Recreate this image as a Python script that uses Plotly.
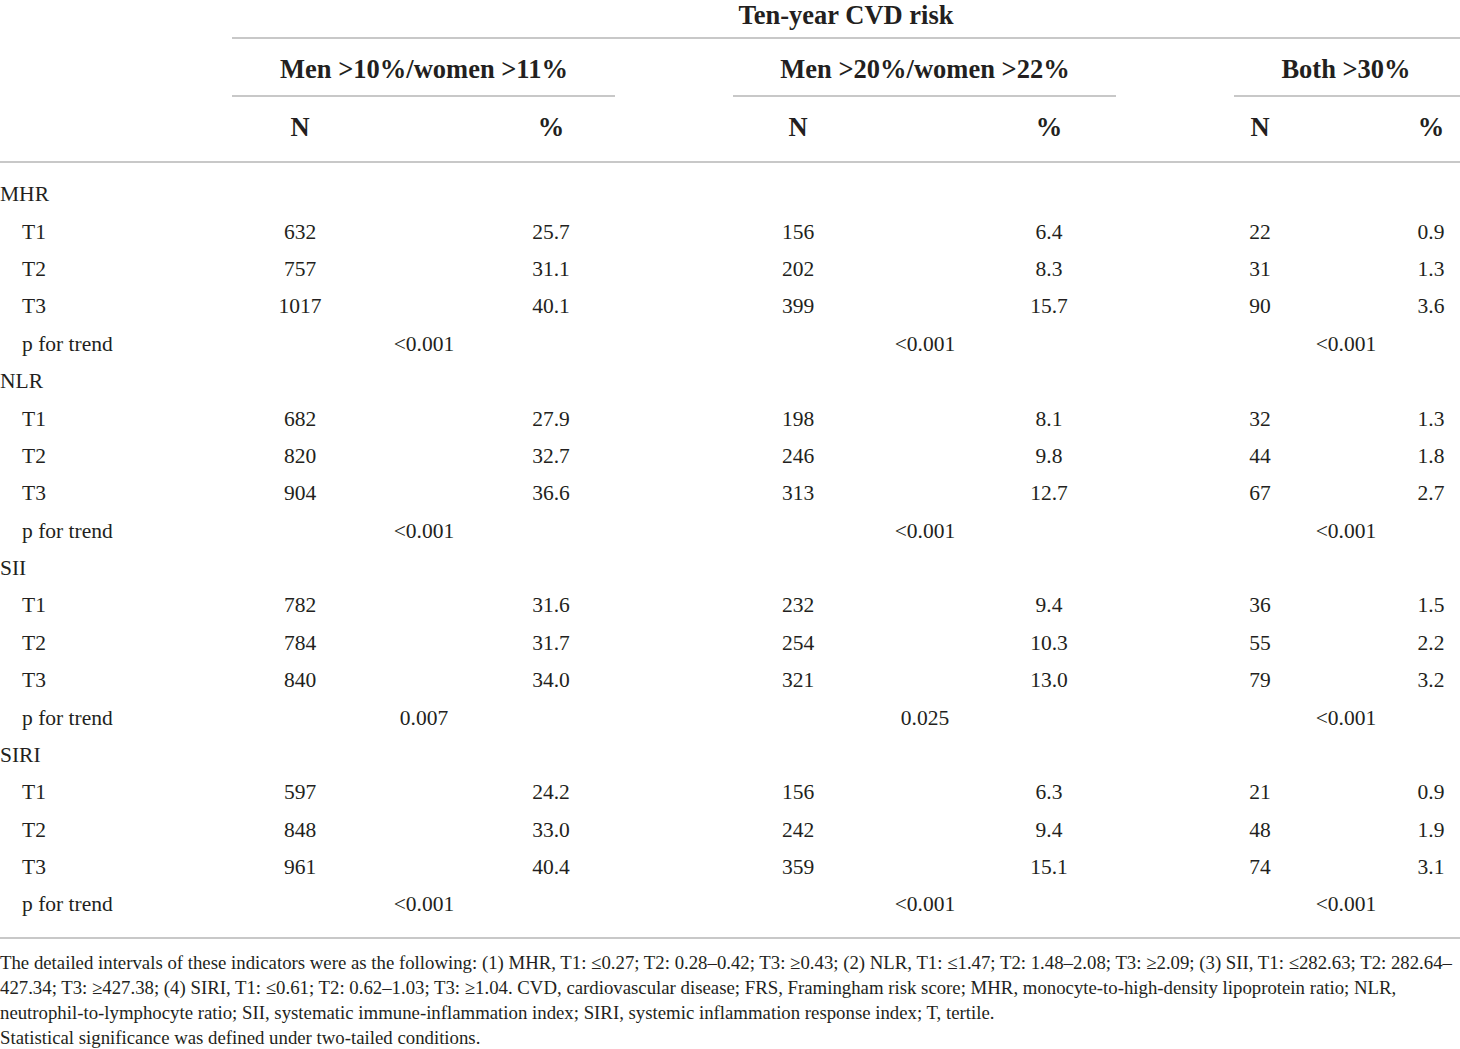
import plotly.graph_objects as go

# table content
indicators = ["MHR", "NLR", "SII", "SIRI"]
tertiles = ["T1", "T2", "T3"]
risk_title = "Ten-year CVD risk"
risk_groups = ["Men >10%/women >11%", "Men >20%/women >22%", "Both >30%"]
col_heads = ["N", "%"]

# N and % per indicator (rows T1..T3), one list per risk group
n_g1 = [[632, 757, 1017], [682, 820, 904], [782, 784, 840], [597, 848, 961]]
pct_g1 = [["25.7", "31.1", "40.1"], ["27.9", "32.7", "36.6"], ["31.6", "31.7", "34.0"], ["24.2", "33.0", "40.4"]]
n_g2 = [[156, 202, 399], [198, 246, 313], [232, 254, 321], [156, 242, 359]]
pct_g2 = [["6.4", "8.3", "15.7"], ["8.1", "9.8", "12.7"], ["9.4", "10.3", "13.0"], ["6.3", "9.4", "15.1"]]
n_g3 = [[22, 31, 90], [32, 44, 67], [36, 55, 79], [21, 48, 74]]
pct_g3 = [["0.9", "1.3", "3.6"], ["1.3", "1.8", "2.7"], ["1.5", "2.2", "3.2"], ["0.9", "1.9", "3.1"]]

p_trend = [["<0.001", "<0.001", "<0.001"],
           ["<0.001", "<0.001", "<0.001"],
           ["0.007", "0.025", "<0.001"],
           ["<0.001", "<0.001", "<0.001"]]

footnote = [
    "The detailed intervals of these indicators were as the following: (1) MHR, T1: ≤0.27; T2: 0.28–0.42; T3: ≥0.43; (2) NLR, T1: ≤1.47; T2: 1.48–2.08; T3: ≥2.09; (3) SII, T1: ≤282.63; T2: 282.64–",
    "427.34; T3: ≥427.38; (4) SIRI, T1: ≤0.61; T2: 0.62–1.03; T3: ≥1.04. CVD, cardiovascular disease; FRS, Framingham risk score; MHR, monocyte-to-high-density lipoprotein ratio; NLR,",
    "neutrophil-to-lymphocyte ratio; SII, systematic immune-inflammation index; SIRI, systemic inflammation response index; T, tertile.",
    "Statistical significance was defined under two-tailed conditions.",
]

# layout (pixel-like axis units)
W, H = 1460, 1049
INK = "#231f20"
RULE = "#c8c8c8"
FONT = "Liberation Serif"
n_x = [300, 798, 1260]
pct_x = [551, 1049, 1431]
p_x = [424, 925, 1346]
group_x = [424, 925, 1346]
group_span = [(232, 615), (733, 1116), (1234, 1460)]
row0, row_step = 196, 37.37
foot_y = [964, 989, 1014, 1039]

n_all = [n_g1, n_g2, n_g3]
pct_all = [pct_g1, pct_g2, pct_g3]

lab_x, lab_y, lab_t = [], [], []
val_x, val_y, val_t = [], [], []
r = 0
for i, ind in enumerate(indicators):
    lab_x.append(0); lab_y.append(row0 + r * row_step); lab_t.append(ind)
    r += 1
    for k, t in enumerate(tertiles):
        y = row0 + r * row_step
        lab_x.append(22); lab_y.append(y); lab_t.append(t)
        for g in range(3):
            val_x += [n_x[g], pct_x[g]]
            val_y += [y, y]
            val_t += [str(n_all[g][i][k]), pct_all[g][i][k]]
        r += 1
    y = row0 + r * row_step
    lab_x.append(22); lab_y.append(y); lab_t.append("p for trend")
    for g in range(3):
        val_x.append(p_x[g]); val_y.append(y); val_t.append(p_trend[i][g])
    r += 1

head_x = [846] + group_x
head_y = [17, 71, 71, 71]
head_t = [risk_title] + risk_groups
for g in range(3):
    head_x += [n_x[g], pct_x[g]]
    head_y += [129, 129]
    head_t += col_heads

fig = go.Figure()
fig.add_trace(go.Scatter(x=head_x, y=head_y, text=["<b>" + t + "</b>" for t in head_t],
                         mode="text", textposition="middle center", cliponaxis=False,
                         textfont=dict(family=FONT, size=26.5, color=INK), hoverinfo="skip"))
fig.add_trace(go.Scatter(x=val_x, y=val_y, text=val_t, mode="text", textposition="middle center",
                         cliponaxis=False,
                         textfont=dict(family=FONT, size=21.5, color=INK), hoverinfo="skip"))
fig.add_trace(go.Scatter(x=lab_x, y=lab_y, text=lab_t, mode="text", textposition="middle right",
                         cliponaxis=False,
                         textfont=dict(family=FONT, size=21.5, color=INK), hoverinfo="skip"))
fig.add_trace(go.Scatter(x=[0] * len(footnote), y=foot_y, text=footnote,
                         mode="text", textposition="middle right", cliponaxis=False,
                         textfont=dict(family=FONT, size=18.8, color=INK), hoverinfo="skip"))

rules = [(232, 1460, 38), (0, 1460, 162), (0, 1460, 938)] + [(a, b, 96) for a, b in group_span]
for x0, x1, y in rules:
    fig.add_shape(type="line", x0=x0, x1=x1, y0=y, y1=y, line=dict(color=RULE, width=2))

fig.update_xaxes(range=[0, W], visible=False, fixedrange=True)
fig.update_yaxes(range=[H, 0], visible=False, fixedrange=True)
fig.update_layout(width=W, height=H, margin=dict(l=0, r=0, t=0, b=0),
                  plot_bgcolor="white", paper_bgcolor="white", showlegend=False)
# drop the default page margin so the figure sits at the window's corner
fig.write_html("out.html", config={"displayModeBar": False},
               post_script="document.body.style.margin = '0';")
